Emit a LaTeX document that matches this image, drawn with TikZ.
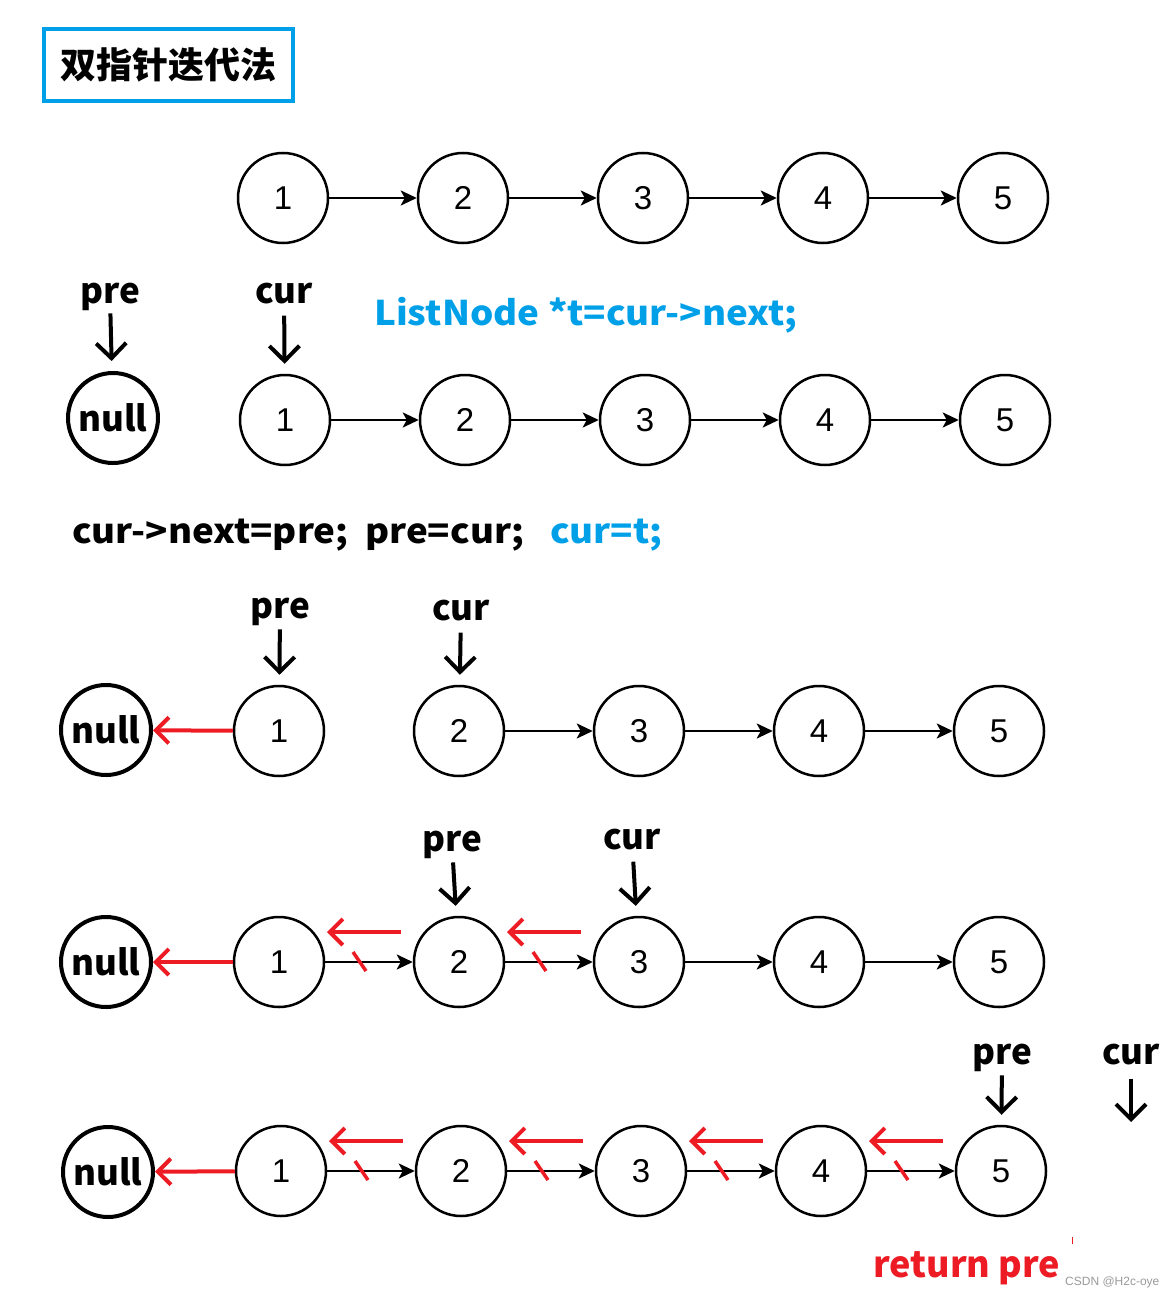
\documentclass[tikz,border=0pt]{standalone}
\usepackage{fontspec}
\newfontfamily\cjk{Noto Sans CJK SC}
\newfontfamily\codefont{Noto Sans CJK SC}[FakeStretch=1.08]
\newfontfamily\digitfont{Liberation Sans}
\usetikzlibrary{arrows.meta,calc}
\definecolor{hlblue}{HTML}{00A0E9}
\definecolor{markred}{HTML}{ED1C24}
\definecolor{wmgray}{HTML}{9A9A9A}

\begin{document}
\begin{tikzpicture}[x=1pt,y=-1pt,
  elem/.style={circle,draw,line width=2.5pt,minimum size=90pt,inner sep=0pt,
    font=\digitfont\fontsize{33}{33}\selectfont},
  nullnode/.style={circle,draw,line width=4pt,minimum size=90pt,inner sep=0pt,
    font=\cjk\bfseries\fontsize{35}{35}\selectfont},
  link/.style={line width=2.5pt,-{Stealth[length=16pt,width=15pt,inset=4pt]}},
  ptr/.style={line width=4pt,-{Straight Barb[length=15pt,width=30pt]}},
  back/.style={draw=markred,line width=4pt,-{Straight Barb[length=13pt,width=26pt]}},
  slash/.style={draw=markred,line width=3.5pt},
  lbl/.style={font=\cjk\bfseries\fontsize{35}{35}\selectfont,inner sep=0pt,anchor=base},
  code/.style={font=\codefont\bfseries\fontsize{34}{34}\selectfont,inner sep=0pt,anchor=base west},
]
\useasboundingbox (0,0) rectangle (1174,1297);
\fill[white] (0,0) rectangle (1174,1297);

% heading
\node[draw=hlblue,line width=4pt,minimum width=249pt,minimum height=72pt,inner sep=0pt,
  font=\cjk\bfseries\fontsize{36}{36}\selectfont] (title) at (168.5,65) {双指针迭代法};

% original list
\foreach \i/\x in {1/283,2/463,3/643,4/823,5/1003}
  \node[elem] (a\i) at (\x,198) {\i};
\foreach \i/\j in {1/2,2/3,3/4,4/5}
  \draw[link] (a\i) -- (a\j);

% step 0: pre = null, cur = head
\node[nullnode] (bnull) at (113,418) {null};
\foreach \i/\x in {1/285,2/465,3/645,4/825,5/1005}
  \node[elem] (b\i) at (\x,420) {\i};
\foreach \i/\j in {1/2,2/3,3/4,4/5}
  \draw[link] (b\i) -- (b\j);
\node[lbl] (bpre) at (110,303) {pre};
\node[lbl] (bcur) at (284,303) {cur};
\draw[ptr,shorten <=3pt,shorten >=10pt] (bpre) -- (bnull);
\draw[ptr,shorten <=12pt,shorten >=10pt] (bcur) -- (b1);
\node[code,text=hlblue] (tline) at (374,325) {ListNode *t=cur->next;};

\node[code] (upd) at (72,543) {cur->next=pre;\ \ pre=cur;};
\node[code,text=hlblue] (adv) at (550,543) {cur=t;};

% step 1
\node[nullnode] (cnull) at (106,730) {null};
\foreach \i/\x in {1/279,2/459,3/639,4/819,5/999}
  \node[elem] (c\i) at (\x,731) {\i};
\foreach \i/\j in {2/3,3/4,4/5}
  \draw[link] (c\i) -- (c\j);
\draw[back] (c1) -- (cnull);
\node[lbl] (cpre) at (280,618) {pre};
\node[lbl] (ccur) at (461,620) {cur};
\draw[ptr,shorten <=4pt,shorten >=10pt] (cpre) -- (c1);
\draw[ptr,shorten <=12pt,shorten >=10pt] (ccur) -- (c2);

% step 2
\node[nullnode] (dnull) at (106,962) {null};
\foreach \i/\x in {1/279,2/459,3/639,4/819,5/999}
  \node[elem] (d\i) at (\x,962) {\i};
\foreach \i/\j in {1/2,2/3,3/4,4/5}
  \draw[link] (d\i) -- (d\j);
\draw[back] (d1) -- (dnull);
\foreach \i in {1,2}{
  \draw[back] ($(d\i)+(122,-30)$) coordinate (dt\i) -- ($(d\i)+(48,-30)$) coordinate (dh\i);
  \draw[slash] ($(d\i)+(74,-10)$) -- ($(d\i)+(87,9)$);
}
\node[lbl] (dpre) at (452,851) {pre};
\node[lbl] (dcur) at (632,849) {cur};
\draw[ptr,shorten <=4pt,shorten >=10pt] (dpre) -- (d2);
\draw[ptr,shorten <=12pt,shorten >=10pt] (dcur) -- (d3);

% final state
\node[nullnode] (enull) at (108,1172) {null};
\foreach \i/\x in {1/281,2/461,3/641,4/821,5/1001}
  \node[elem] (e\i) at (\x,1171) {\i};
\foreach \i/\j in {1/2,2/3,3/4,4/5}
  \draw[link] (e\i) -- (e\j);
\draw[back] (e1) -- (enull);
\foreach \i in {1,2,3,4}{
  \draw[back] ($(e\i)+(122,-30)$) coordinate (et\i) -- ($(e\i)+(48,-30)$) coordinate (eh\i);
  \draw[slash] ($(e\i)+(74,-10)$) -- ($(e\i)+(87,9)$);
}
\node[lbl] (epre) at (1002,1064) {pre};
\node[lbl] (ecur) at (1131,1064) {cur};
\coordinate (eend) at (1131,1122);
\draw[ptr,shorten <=4pt,shorten >=10pt] (epre) -- (e5);
\draw[ptr,shorten <=14pt] (ecur) -- (eend);

\node[font=\cjk\bfseries\fontsize{36}{36}\selectfont,text=markred,inner sep=0pt,anchor=base west]
  (ret) at (873,1277) {return pre};
\draw[markred,line width=1pt] (1072,1237) -- (1072,1244);
\node[font=\digitfont\fontsize{12}{12}\selectfont,text=wmgray,inner sep=0pt,anchor=base west]
  (wm) at (1065,1285) {CSDN @H2c-oye};
\end{tikzpicture}
\end{document}
